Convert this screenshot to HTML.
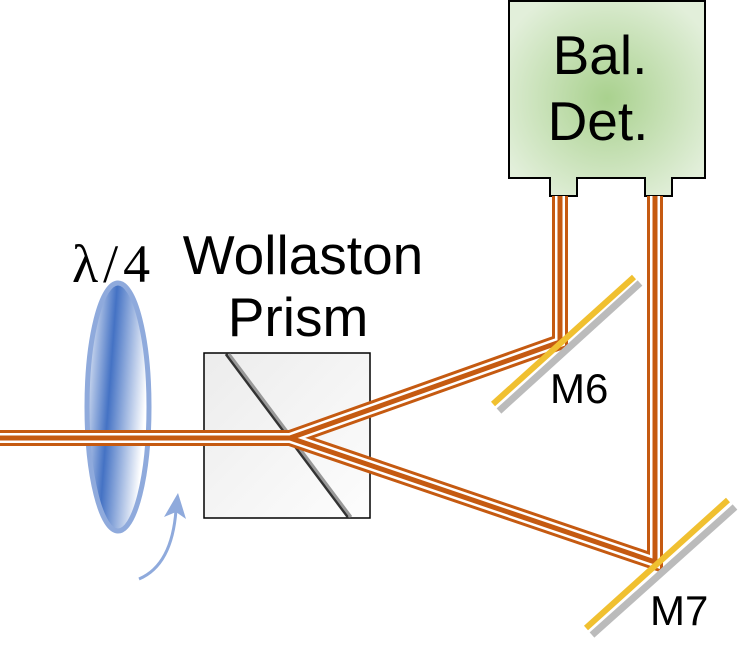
<!DOCTYPE html>
<html><head><style>body{margin:0;background:#fff}svg{display:block}</style></head><body>
<svg width="746" height="663" viewBox="0 0 746 663" xmlns="http://www.w3.org/2000/svg">
<defs>
<radialGradient id="g" cx="50%" cy="50%" r="60%"><stop offset="0" stop-color="#a9d18e"/><stop offset="1" stop-color="#e2efda"/></radialGradient>
<linearGradient id="p" x1="0" y1="0" x2="1" y2="1"><stop offset="0" stop-color="#ececec"/><stop offset="1" stop-color="#fdfdfd"/></linearGradient>
<linearGradient id="l" x1="0" y1="0" x2="1" y2="0.3"><stop offset="0" stop-color="#fff"/><stop offset="0.45" stop-color="#4472c4"/><stop offset="1" stop-color="#fff"/></linearGradient>
</defs>
<path d="M509,1 H705 V178 H672 V196 H645 V178 H577 V196 H550 V178 H509 Z" fill="url(#g)" stroke="#000" stroke-width="2"/>
<text x="600" y="74" font-family="Liberation Sans,sans-serif" font-size="55" text-anchor="middle">Bal.</text>
<text x="598" y="140" font-family="Liberation Sans,sans-serif" font-size="55" text-anchor="middle">Det.</text>
<rect x="204" y="353" width="166" height="165" fill="url(#p)" stroke="#000" stroke-width="1.5"/>
<line x1="226" y1="354" x2="348" y2="517" stroke="#333" stroke-width="3"/>
<line x1="229" y1="354" x2="351" y2="517" stroke="#999" stroke-width="3"/>
<ellipse cx="118" cy="407" rx="31" ry="124" fill="url(#l)" stroke="#8faadc" stroke-width="5"/>
<path d="M139,579 Q172,565 176,510" fill="none" stroke="#8faadc" stroke-width="3"/>
<path d="M164,517 L178,493 L186,519 L176,512 Z" fill="#8faadc"/>
<g fill="none" stroke-linejoin="miter">
<g stroke="#c55a11" stroke-width="16">
<path d="M0,438 H290 L560,342 V196"/><path d="M290,438 L655,562 V196"/></g>
<g stroke="#fff" stroke-width="10">
<path d="M0,438 H290 L560,342 V196"/><path d="M290,438 L655,562 V196"/></g>
<g stroke="#c55a11" stroke-width="5">
<path d="M0,438 H290 L560,342 V196"/><path d="M290,438 L655,562 V196"/></g>
</g>
<line x1="499" y1="411" x2="640" y2="283" stroke="#bbb" stroke-width="7"/>
<line x1="493" y1="404" x2="634" y2="277" stroke="#f0c030" stroke-width="6"/>
<line x1="592" y1="635" x2="735" y2="507" stroke="#bbb" stroke-width="7"/>
<line x1="586" y1="628" x2="728" y2="500" stroke="#f0c030" stroke-width="6"/>
<text x="550" y="403" font-family="Liberation Sans,sans-serif" font-size="42">M6</text>
<text x="650" y="625" font-family="Liberation Sans,sans-serif" font-size="42">M7</text>
<text x="72" y="282" font-family="Liberation Serif,serif" font-size="54" letter-spacing="5">λ/4</text>
<text x="303" y="274" font-family="Liberation Sans,sans-serif" font-size="55" text-anchor="middle">Wollaston</text>
<text x="298" y="336" font-family="Liberation Sans,sans-serif" font-size="55" text-anchor="middle">Prism</text>
</svg>
</body></html>
